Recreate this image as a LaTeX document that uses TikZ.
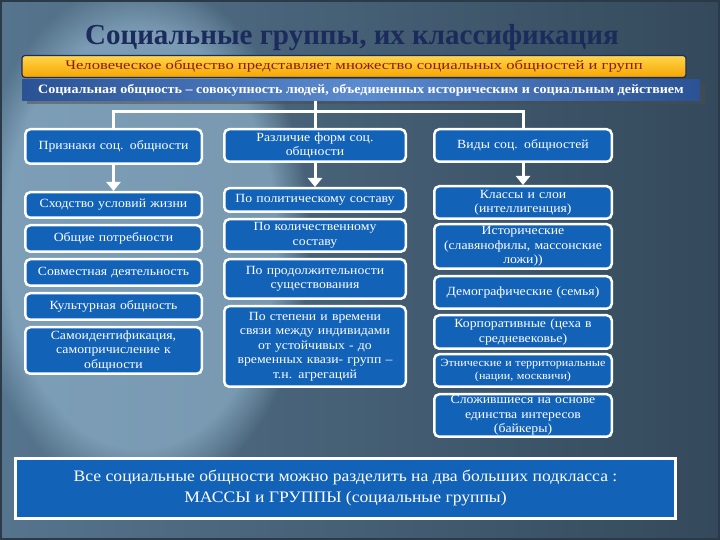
\documentclass[tikz,border=0pt]{standalone}
\usepackage{fontspec}
\setmainfont[FakeStretch=1.1]{Liberation Serif}
\newfontfamily\titlefont{Liberation Serif}
\newfontfamily\widefont[FakeStretch=1.28]{Liberation Serif}
\usetikzlibrary{positioning, shapes, arrows.meta, shadows, fadings}
\definecolor{slate}{HTML}{4C6A83}
\definecolor{slatedark}{HTML}{34495B}
\definecolor{slatelight}{HTML}{8DB0C8}
\definecolor{boxblue}{HTML}{1262B8}
\definecolor{navy}{HTML}{1B2B5C}
\definecolor{bannertop}{HTML}{FFD54A}
\definecolor{bannerbottom}{HTML}{F5A500}
\definecolor{bannerred}{HTML}{8A1B10}
\definecolor{bannerblue}{HTML}{2A5294}
\definecolor{bannermid}{HTML}{5B8BD0}

\begin{document}
\begin{tikzpicture}[
        x=1pt, y=1pt,
        node distance=5pt,
        every node/.style={align=center, inner sep=1pt},
        box/.style={rectangle, draw=white, line width=2.5pt, rounded corners=5pt, fill=boxblue, text=white, font=\fontsize{12.5}{14.5}\selectfont},
        col1/.style={box, text width=174.5pt},
        col2/.style={box, text width=179.5pt},
        col3/.style={box, text width=175.5pt},
        yellowbanner/.style={rectangle, rounded corners=3pt, draw=navy, line width=1.2pt, top color=bannertop, bottom color=bannerbottom, minimum width=664pt, minimum height=22pt, text=bannerred, font=\widefont\fontsize{13}{14}\selectfont},
        bluebanner/.style={rectangle, left color=bannerblue, right color=bannerblue, middle color=bannermid, minimum width=678pt, minimum height=21pt, text=white, font=\fontsize{12.8}{14}\bfseries, drop shadow={shadow xshift=5pt, shadow yshift=-3pt, fill=black!70, opacity=.5}},
        summarybox/.style={rectangle, draw=white, line width=3pt, fill=boxblue, minimum width=660pt, minimum height=60pt, text=white, font=\fontsize{16}{21}\selectfont},
        link/.style={draw=white, line width=3pt},
        arrow/.style={link, -{Triangle[width=14pt,length=9pt]}}
    ]
    \useasboundingbox (0,0) rectangle (720,540);

    % Background
    \shade[left color=slate!85!slatelight, middle color=slate, right color=slatedark] (0,0) rectangle (720,540);
    \fill[slatelight, path fading=circle with fuzzy edge 20 percent, opacity=.7] (140,300) ellipse (170 and 260);
    \draw[slatedark!80!black, line width=4pt] (0,0) rectangle (720,540);

    % Header
    \node[font=\titlefont\fontsize{29}{31}\bfseries, text=navy] (title) at (352,502) {Социальные группы, их классификация};
    \node[yellowbanner] (society) at (354,473.5) {Человеческое общество представляет множество социальных общностей и групп};
    \node[bluebanner] (defn) at (361,449.5) {Социальная общность – совокупность людей,  объединенных историческим и социальным действием};

    % Main flow
    \node[col1, minimum height=34.5pt] (signs) at (113.5,393.5) {Признаки соц. общности};
    \node[col2, minimum height=32.5pt] (forms) at (315,394.5) {Различие форм соц.\\общности};
    \node[col3, minimum height=32.5pt] (kinds) at (523,394.5) {Виды соц. общностей};

    \node[col1, minimum height=25.5pt, below=26pt of signs] (life) {Сходство условий жизни};
    \node[col1, minimum height=26.5pt, below=of life] (needs) {Общие потребности};
    \node[col1, minimum height=26.5pt, below=of needs] (joint) {Совместная деятельность};
    \node[col1, minimum height=26.5pt, below=of joint] (culture) {Культурная общность};
    \node[col1, minimum height=46.5pt, below=of culture] (selfid) {Самоидентификация,\\самопричисление к\\общности};

    \node[col2, minimum height=23.5pt, below=24pt of forms] (political) {По политическому составу};
    \node[col2, minimum height=32.5pt, below=of political] (size) {По количественному\\составу};
    \node[col2, minimum height=39.5pt, below=of size] (duration) {По продолжительности\\существования};
    \node[col2, minimum height=80.5pt, below=of duration] (ties) {По степени  и времени\\связи между индивидами\\от устойчивых  - до\\временных квази- групп –\\т.н.  агрегаций};

    \node[col3, minimum height=32.5pt, below=22pt of kinds] (classes) {Классы и слои\\(интеллигенция)};
    \node[col3, minimum height=44.5pt, below=3pt of classes] (historic) {Исторические\\(славянофилы, массонские\\ложи))};
    \node[col3, minimum height=32.5pt, below=of historic] (demo) {Демографические (семья)};
    \node[col3, minimum height=33.5pt, below=4pt of demo] (corp) {Корпоративные (цеха в\\средневековье)};
    \node[col3, minimum height=32.5pt, below=3pt of corp, font=\fontsize{11}{13}\selectfont] (ethnic) {Этнические и территориальные\\(нации, москвичи)};
    \node[col3, minimum height=42.5pt, below=of ethnic] (interest) {Сложившиеся на основе\\единства  интересов\\(байкеры)};

    \node[summarybox] (summary) at (345.5,51.5) {Все социальные общности можно разделить на два больших подкласса :\\МАССЫ и ГРУППЫ (социальные группы)};

    % Arrows
    \coordinate (bus) at (315,428);
    \draw[link] (defn.south -| forms.north) -- (forms.north);
    \draw[link] (signs.north) |- (bus) -| (kinds.north);
    \draw[arrow] (signs) -- (life);
    \draw[arrow] (forms) -- (political);
    \draw[arrow] (kinds) -- (classes);

    \end{tikzpicture}
\end{document}
